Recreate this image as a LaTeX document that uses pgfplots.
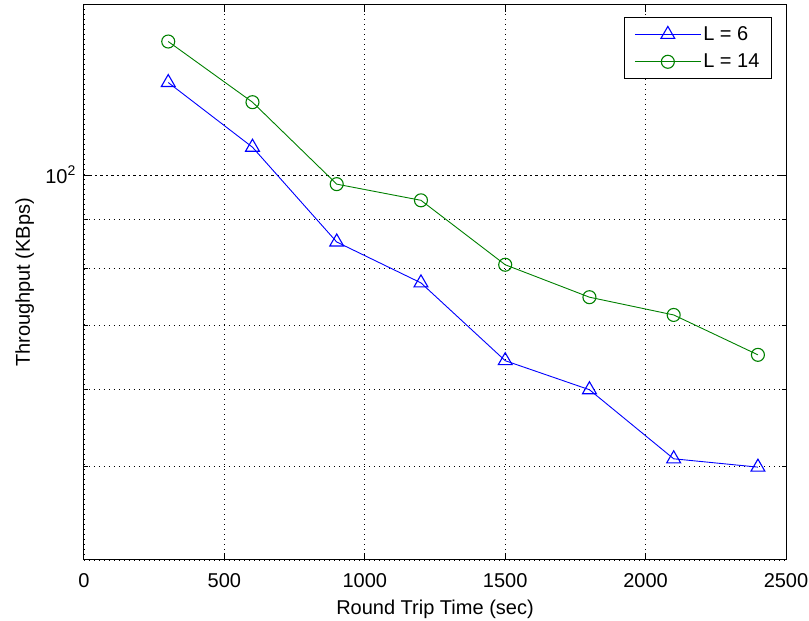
\documentclass[border=0pt]{standalone}
\usepackage{fontspec}
\setmainfont{Liberation Sans}
\usepackage{pgfplots}
\pgfplotsset{compat=1.18}
\definecolor{mblue}{RGB}{0,0,255}
\definecolor{mgreen}{RGB}{0,128,0}
\begin{document}
\begin{tikzpicture}[x=1pt,y=1pt]
\path[use as bounding box] (-84,-61) rectangle (725,560);
\begin{axis}[
  at={(0,0)}, anchor=south west,
  scale only axis,
  width=702pt, height=555pt,
  ymode=log,
  xmin=0, xmax=2500, ymin=40, ymax=150,
  xtick={0,500,1000,1500,2000,2500},
  ytick={100},
  yticklabels={10\textsuperscript{2}},
  minor ytick={40,50,60,70,80,90},
  tick align=inside,
  major tick length=7pt,
  minor tick length=4pt,
  xmajorgrids, yminorgrids,
  grid style={black, line width=0.9pt, dash pattern=on 1pt off 4pt},
  major grid style={black, line width=0.9pt, dash pattern=on 1pt off 4pt},
  minor grid style={black, line width=0.9pt, dash pattern=on 1pt off 4pt},
  extra y ticks={100},
  extra y tick labels={},
  extra y tick style={ymajorgrids=true, major tick length=0pt, major grid style={black, line width=0.9pt, dash pattern=on 2.5pt off 3pt}},
  axis line style={black, line width=1pt},
  tick style={black, line width=1pt},
  every tick label/.style={font=\fontsize{20}{24}\selectfont, inner sep=0pt},
  /pgf/number format/assume math mode=true,
  /pgf/number format/1000 sep={},
  xticklabel style={anchor=base, yshift=-28pt},
  yticklabel style={anchor=base east, xshift=-8pt, yshift=-8pt},
  xlabel={Round Trip Time (sec)},
  ylabel={Throughput (KBps)},
  xlabel style={font=\fontsize{20}{24}\selectfont, inner sep=0pt, at={([yshift=-55pt]axis description cs:0.5,0)}, anchor=base},
  ylabel style={font=\fontsize{20}{24}\selectfont, inner sep=0pt, at={([xshift=-54pt]axis description cs:0,0.5)}, anchor=base, rotate=0},
  legend style={at={(rel axis cs:0.98,0.978)}, anchor=north east, draw=black, line width=1pt, font=\fontsize{20}{24}\selectfont, row sep=8pt, inner xsep=10pt, inner ysep=7pt},
  legend cell align=left,
  legend image code/.code={
    \draw[#1, mark repeat=2, mark phase=2] plot coordinates {(0pt,0pt) (33pt,0pt) (66pt,0pt)};
  },
]
\addplot[color=mblue, line width=0.9pt, mark=triangle, mark size=8pt, mark options={solid, line width=1.1pt}] coordinates {
(300,124.7) (600,106.9) (900,85.3) (1200,77.4) (1500,64.3) (1800,60.0) (2100,50.9) (2400,49.9)
};
\addlegendentry{L = 6}
\addplot[color=mgreen, line width=0.9pt, mark=o, mark size=6.5pt, mark options={solid, line width=1.1pt}] coordinates {
(300,137.5) (600,119.0) (900,97.9) (1200,94.2) (1500,80.8) (1800,74.8) (2100,71.7) (2400,65.2)
};
\addlegendentry{L = 14}
\end{axis}
\end{tikzpicture}
\end{document}
